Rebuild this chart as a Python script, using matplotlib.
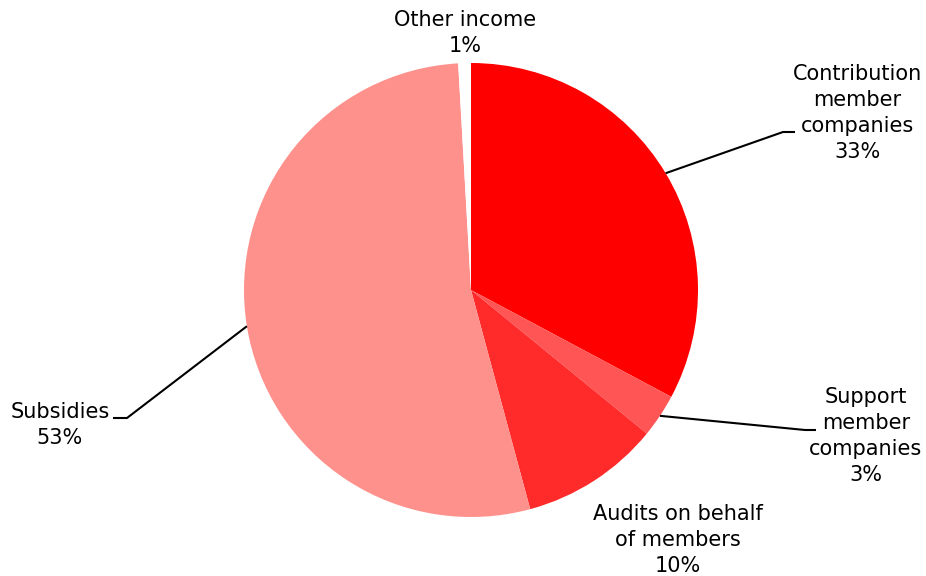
import numpy as np
import matplotlib.pyplot as plt

categories = ['Contribution\nmember\ncompanies', 'Support\nmember\ncompanies',
              'Audits on behalf\nof members', 'Subsidies', 'Other income']
shares = [32.8, 3.1, 9.9, 53.3, 0.9]
colors = ['#ff0000', '#ff5555', '#ff2b2b', '#fe918c', '#ffffff']

# label centres (pixel coords) and leader elbow points, None = no leader
label_pos = [(857, 113), (866, 436), (678, 540), (60, 425), (465, 33)]
elbows = [((783, 132), (795, 132)), ((805, 430), (816, 430)), None,
          ((127, 418), (113, 418)), None]

center = (471, 290)
radius = 227

fig = plt.figure(figsize=(9.26, 5.76), dpi=100)
ax = fig.add_axes([0, 0, 1, 1])

# y axis is flipped, so counterclock=True draws clockwise on screen
wedges, _ = ax.pie(shares, colors=colors, startangle=-90, counterclock=True,
                   center=center, radius=radius, frame=True,
                   wedgeprops=dict(linewidth=0))
ax.set_xlim(0, 926)
ax.set_ylim(576, 0)
ax.set_aspect('equal')
ax.axis('off')

for w, name, val, pos, elb in zip(wedges, categories, shares, label_pos, elbows):
    ax.text(pos[0], pos[1], f'{name}\n{round(val):.0f}%', ha='center', va='center',
            fontsize=15, linespacing=1.38, family='DejaVu Sans')
    if elb is not None:
        mid = np.deg2rad((w.theta1 + w.theta2) / 2)
        sx = center[0] + radius * np.cos(mid)
        sy = center[1] + radius * np.sin(mid)
        ax.plot([sx, elb[0][0], elb[1][0]], [sy, elb[0][1], elb[1][1]],
                color='black', lw=1.5, solid_capstyle='butt')

plt.savefig('out.png', dpi=100)
